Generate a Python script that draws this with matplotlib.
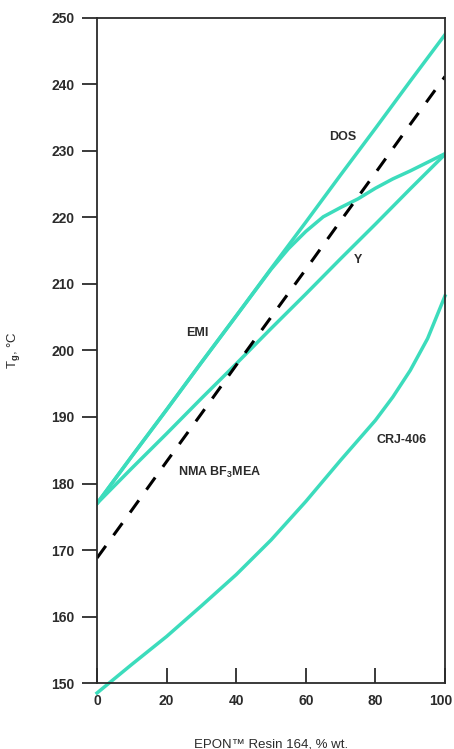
import matplotlib
matplotlib.use("Agg")
import matplotlib.pyplot as plt
from matplotlib.transforms import ScaledTranslation

plt.rcParams['font.family'] = ['Liberation Sans', 'DejaVu Sans']
plt.rcParams['font.weight'] = 'bold'
plt.rcParams['mathtext.fontset'] = 'custom'
plt.rcParams['mathtext.rm'] = 'Liberation Sans:bold'
plt.rcParams['mathtext.it'] = 'Liberation Sans:bold'
plt.rcParams['mathtext.bf'] = 'Liberation Sans:bold'

# data
x = [0, 10, 20, 30, 40, 50, 60, 70, 80, 90, 100]
emi_dos = [177, 184.1, 191.1, 198.2, 205.2, 212.3, 219.3, 226.4, 233.4, 240.5, 247.5]
y_line = [177, 182.3, 187.5, 192.8, 198.0, 203.3, 208.5, 213.8, 219.0, 224.3, 229.5]
nma = [168.8, 176.0, 183.3, 190.5, 197.8, 205.0, 212.2, 219.5, 226.7, 234.0, 241.2]

x_branch = [0, 10, 20, 30, 40, 50, 55, 60, 65, 70, 75, 80, 85, 90, 95, 100]
branch = [177, 184.1, 191.1, 198.2, 205.2, 212.2, 215.3, 217.9, 220.1, 221.5, 222.8,
          224.4, 225.8, 227.0, 228.3, 229.6]

x_crj = [0, 10, 20, 30, 40, 50, 60, 70, 80, 85, 90, 95, 100]
crj = [148.5, 152.8, 157.0, 161.6, 166.3, 171.5, 177.3, 183.5, 189.5, 193.0, 197.0,
       201.8, 208.2]

labels = ["DOS", "EMI", "Y", "NMA BF$_3$MEA", "CRJ-406"]
label_x = [70.7, 28.7, 75.0, 35.3, 87.6]
label_y = [232.1, 202.6, 213.6, 181.6, 186.5]

teal = '#3cdcbc'
ink = '#2b2b2b'

fig = plt.figure(figsize=(4.54, 7.49), dpi=100)
ax = fig.add_axes([0.2137, 0.0881, 0.7665, 0.8879])

ax.plot(x, emi_dos, color=teal, lw=2.5)
ax.plot(x_branch, branch, color=teal, lw=2.5)
ax.plot(x, y_line, color=teal, lw=2.5)
ax.plot(x_crj, crj, color=teal, lw=2.5, clip_on=False)
ax.plot(x, nma, color='black', lw=2.2, linestyle=(0, (4.9, 4.3)))

for t, lx, ly in zip(labels, label_x, label_y):
    ax.text(lx, ly, t, ha='center', va='center', fontsize=9, color=ink,
            fontweight='bold')

ax.set_xlim(0, 100)
ax.set_ylim(150, 250)
ax.set_xticks([0, 20, 40, 60, 80, 100])
ax.set_yticks(range(150, 251, 10))

for s in ax.spines.values():
    s.set_color(ink)
    s.set_linewidth(1.3)

ax.tick_params(axis='y', direction='out', length=11, width=1.3, color=ink,
               labelsize=10, labelcolor=ink, pad=5)
ax.tick_params(axis='x', direction='in', length=11, width=1.3, color=ink,
               labelsize=10, labelcolor=ink, pad=8)

# the "100" label sits a little left so it stays inside the picture
last = ax.get_xticklabels()[-1]
last.set_transform(last.get_transform() + ScaledTranslation(-3 / 72, 0, fig.dpi_scale_trans))

ax.set_xlabel("EPON™ Resin 164, % wt.", fontsize=9.5, color=ink)
ax.xaxis.set_label_coords(0.5, -0.083)
ax.set_ylabel("T$_g$, °C", fontsize=9.5, color=ink)
ax.yaxis.set_label_coords(-0.215, 0.5)

fig.savefig("out.png", dpi=100)
